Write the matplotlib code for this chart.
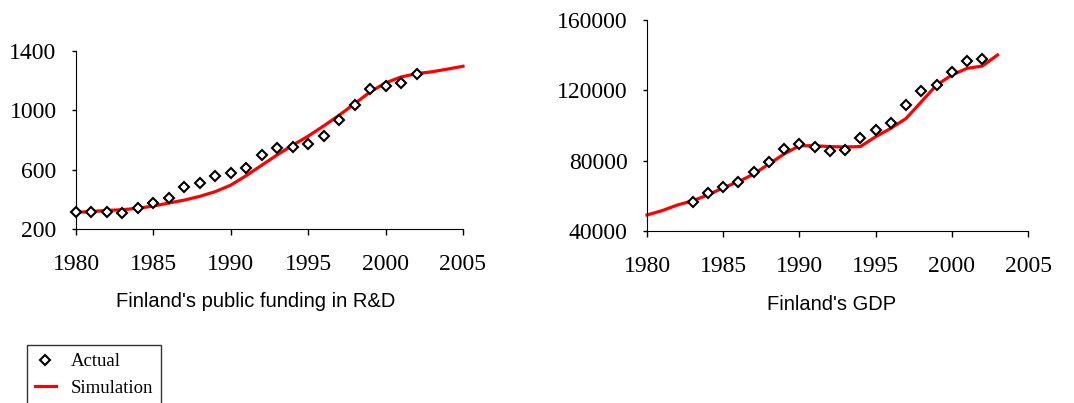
import matplotlib.pyplot as plt

# public funding in R&D (left chart)
anos_rd = [1980, 1981, 1982, 1983, 1984, 1985, 1986, 1987, 1988, 1989, 1990,
           1991, 1992, 1993, 1994, 1995, 1996, 1997, 1998, 1999, 2000, 2001, 2002]
rd_actual = [312, 312, 312, 310, 343, 377, 411, 485, 512, 557, 575,
             613, 702, 747, 754, 776, 826, 933, 1039, 1144, 1165, 1185, 1243]
anos_rd_sim = list(range(1980, 2006))
rd_sim = [312, 318, 325, 330, 340, 355, 375, 395, 420, 452, 496, 560, 630,
          700, 765, 826, 895, 967, 1045, 1124, 1185, 1225, 1247, 1260, 1278, 1297]

# GDP (right chart)
anos_gdp = list(range(1983, 2003))
gdp_actual = [56700, 61400, 65200, 68100, 73400, 79000, 86400, 89500, 87600, 85500,
              86100, 92700, 97400, 101600, 111500, 119800, 123000, 130600, 136900, 137600]
anos_gdp_sim = list(range(1980, 2004))
gdp_sim = [49100, 51600, 54800, 57200, 60500, 64600, 68000, 72400, 78100, 83800, 88500, 88500,
           88000, 87800, 88000, 93600, 98400, 104000, 113500, 123000, 128700, 132500, 133800, 140100]

plt.rcParams['font.family'] = 'Liberation Serif'
fig = plt.figure(figsize=(10.74, 4.03), dpi=100)

ax1 = fig.add_axes([76 / 1074, 1 - 229 / 403, 387 / 1074, 178 / 403])
ax2 = fig.add_axes([647 / 1074, 1 - 231 / 403, 381 / 1074, 211 / 403])


def estilo(ax):
    ax.spines['top'].set_visible(False)
    ax.spines['right'].set_visible(False)
    ax.tick_params(axis='x', direction='out', length=4, width=1, labelsize=17, pad=14)
    ax.tick_params(axis='y', direction='out', length=3, width=1, labelsize=17, pad=11)
    ax.set_xlim(1980, 2005)
    ax.set_xticks(range(1980, 2006, 5))


linha, = ax1.plot(anos_rd_sim, rd_sim, color='#ff0000', lw=2.3, clip_on=False, zorder=2)
pontos, = ax1.plot(anos_rd, rd_actual, 'D', ms=5.5, mfc='white', mec='black', mew=1.5,
                   clip_on=False, zorder=3)
estilo(ax1)
ax1.set_ylim(200, 1400)
ax1.set_yticks([200, 600, 1000, 1400])

ax2.plot(anos_gdp_sim, gdp_sim, color='#ff0000', lw=2.3, clip_on=False, zorder=2)
ax2.plot(anos_gdp, gdp_actual, 'D', ms=5.5, mfc='white', mec='black', mew=1.5,
         clip_on=False, zorder=3)
estilo(ax2)
ax2.set_ylim(40000, 160000)
ax2.set_yticks([40000, 80000, 120000, 160000])

# chart captions
fig.text(256 / 1074, 1 - 307 / 403, "Finland's public funding in R&D", ha='center', va='baseline',
         fontsize=14.5, family='Liberation Sans')
fig.text(832 / 1074, 1 - 310 / 403, "Finland's GDP", ha='center', va='baseline',
         fontsize=14.5, family='Liberation Sans')

leg = fig.legend([pontos, linha], ['Actual', 'Simulation'], loc='upper left',
                 bbox_to_anchor=(27 / 1074, 1 - 345 / 403), fontsize=13.5, frameon=True,
                 fancybox=False, edgecolor='black', handlelength=1.1, handletextpad=0.8,
                 borderpad=0.43, labelspacing=0.5, borderaxespad=0)
leg.get_frame().set_linewidth(1)
for h in leg.legend_handles:
    h.set_markersize(5)

fig.savefig('out.png', dpi=100)
